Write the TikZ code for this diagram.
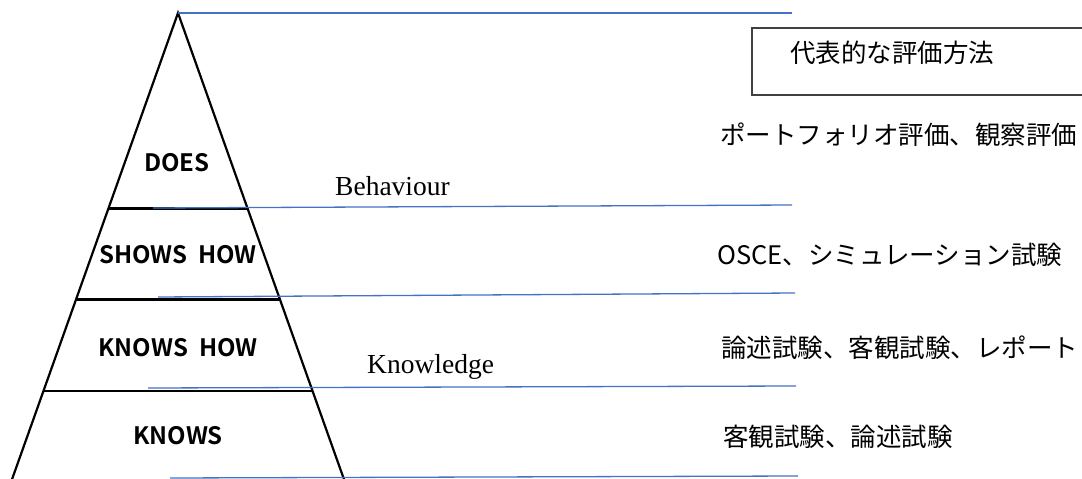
\documentclass[tikz,border=0pt]{standalone}
\usepackage{fontspec}
\setmainfont{Liberation Serif}
\newfontfamily\jpfont{Noto Sans CJK JP}
\newfontfamily\lvlfont{Noto Sans CJK JP}[BoldFont={Noto Sans CJK JP Bold}]
\usetikzlibrary{calc}
\definecolor{lineblue}{HTML}{4472C4}
\tikzset{
  pyr_L/.style = {black, line width=2.2pt},
  rule_B/.style = {draw=lineblue, line width=1.3pt},
  % level text inside the pyramid
  lvl_T/.style = {inner sep=0pt, font=\lvlfont\bfseries\fontsize{24}{24}\selectfont},
  meth_T/.style = {anchor=west, inner sep=0pt, font=\jpfont\fontsize{25.5}{25.5}\selectfont},
  axis_T/.style = {anchor=base west, inner sep=0pt, font=\fontsize{27.5}{27.5}\selectfont},
  box_B/.style = {draw=black!75, line width=1.3pt}
}

\begin{document}
\begin{tikzpicture}[x=1pt,y=-1pt]
    \useasboundingbox (0,0) rectangle (1082,479);
    % Pyramid corners:
    \coordinate (apex) at (178,13);
    \coordinate (bl) at (10,485);
    \coordinate (br) at (346,485);
    \draw[pyr_L] (bl) -- (apex) -- (br);
    % Level borders:
    \foreach \t [count=\i] in {0.4140,0.6070,0.8000}
      \draw[pyr_L] ($(apex)!\t!(bl)$) coordinate (lL\i) -- ($(apex)!\t!(br)$) coordinate (lR\i);
    % Blue rules:
    \foreach \xa/\ya/\xb/\yb [count=\i from 0] in {178/13/792/13, 153/208/792/205, 158/297/795/293, 148/388/796/386, 170/478/798/476}{
      \coordinate (ra\i) at (\xa,\ya);
      \coordinate (rb\i) at (\xb,\yb);
      \draw[rule_B] (ra\i) -- (rb\i);
    }
    % Level labels:
    \node[lvl_T] (does) at (177,163) {DOES};
    \node[lvl_T] (shows) at (178,255) {SHOWS\ \ HOW};
    \node[lvl_T] (knowshow) at (178,348) {KNOWS\ \ HOW};
    \node[lvl_T] (knows) at (178,436) {KNOWS};
    % Behaviour / Knowledge:
    \node[axis_T] (behav) at (335,195) {Behaviour};
    \node[axis_T] (knowl) at (367,373) {Knowledge};
    % Methods column:
    \node[meth_T] (head) at (790,53) {代表的な評価方法};
    \draw[box_B] ($(head.west)+(-38,-25)$) rectangle ++(340,67);
    \node[meth_T] (does_m) at (720,135) {ポートフォリオ評価、観察評価};
    \node[meth_T] (shows_m) at (717,255) {OSCE、シミュレーション試験};
    \node[meth_T] (knowshow_m) at (721,348) {論述試験、客観試験、レポート};
    \node[meth_T] (knows_m) at (723,437) {客観試験、論述試験};
\end{tikzpicture}
\end{document}
